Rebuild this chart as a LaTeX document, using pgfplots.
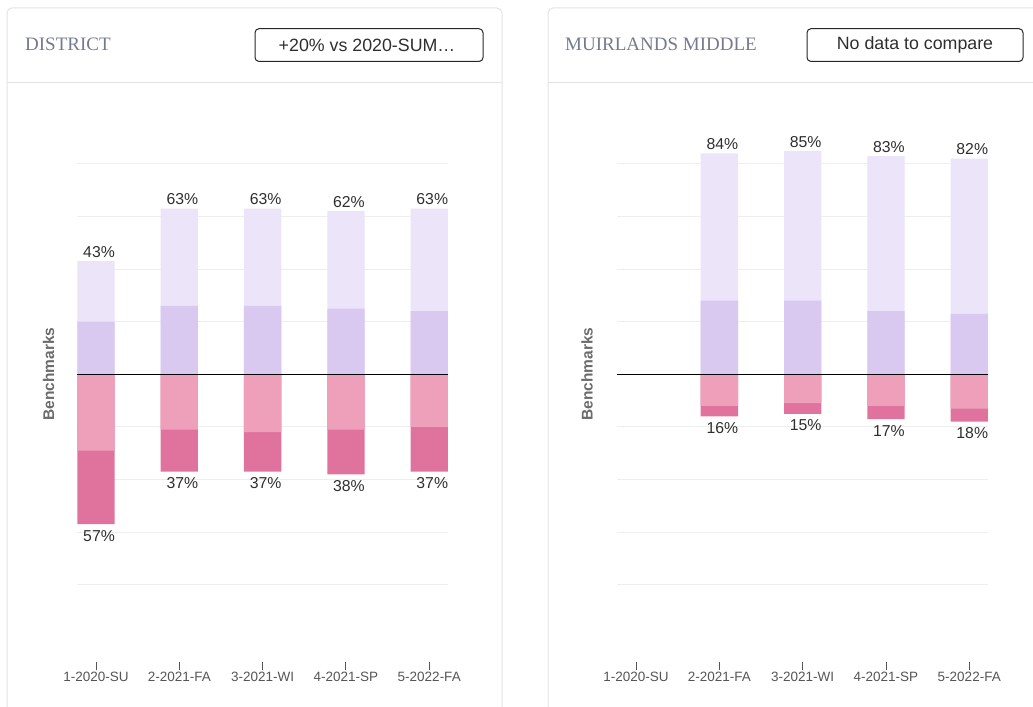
\documentclass[border=0pt]{standalone}
\usepackage{fontspec}
\setmainfont{Liberation Sans}
\newfontfamily\seriffont{Liberation Serif}
\usepackage{pgfplots}
\pgfplotsset{compat=1.18}
\usepackage{pgfplotstable}

\definecolor{lpur}{HTML}{ECE4F9}
\definecolor{dpur}{HTML}{D9C9F0}
\definecolor{lpink}{HTML}{EEA0BB}
\definecolor{dpink}{HTML}{DF739D}
\definecolor{gridc}{HTML}{EEEEEE}
\definecolor{cardc}{HTML}{E3E3E3}
\definecolor{headc}{HTML}{767A90}
\definecolor{tickc}{HTML}{555555}
\definecolor{labc}{HTML}{2E2E2E}
\definecolor{benchc}{HTML}{6B6B6B}

% x: category, dp: dark purple, lp: light purple, lk: light pink, dk: dark pink
\pgfplotstableread{
x dp lp lk dk pos neg
0 20 23 29 28 43 57
1 26 37 21 16 63 37
2 26 37 22 15 63 37
3 25 37 21 17 62 38
4 24 39 20 17 63 37
}\district

\pgfplotstableread{
x dp lp lk dk pos neg
1 28 56 12 4 84 16
2 28 57 11 4 85 15
3 24 59 12 5 83 17
4 23 59 13 5 82 18
}\muirlands

\pgfplotsset{
  panel/.style={
    anchor=south west,
    x=83.3bp, y=2.63bp,
    xmin=-0.225, xmax=4.225, ymin=-109.5, ymax=110,
    ybar, bar width=37.3bp, bar shift=0pt,
    clip=false,
    /pgf/number format/assume math mode=true,
    axis line style={draw=none},
    ytick={-80,-60,-40,-20,20,40,60,80}, yticklabels={},
    ymajorgrids, grid style={gridc, line width=1bp},
    ytick style={draw=none},
    xtick={0,1,2,3,4},
    xticklabels={1-2020-SU,2-2021-FA,3-2021-WI,4-2021-SP,5-2022-FA},
    xtick pos=left, tick align=outside, major tick length=8bp,
    xtick style={draw=tickc, line width=0.9bp},
    xticklabel style={font=\fontsize{13.5bp}{16bp}\selectfont, text=tickc, inner sep=2bp},
    every node near coord/.append style={font=\fontsize{15.8bp}{18bp}\selectfont, text=labc, xshift=3bp},
  },
  lblpos/.style={nodes near coords={\pgfmathprintnumber{\pgfplotspointmeta}\%}, point meta=explicit},
  lblneg/.style={visualization depends on={\thisrow{neg} \as \negval},
                 nodes near coords={\pgfmathprintnumber[fixed, precision=0]{\negval}\%}, point meta=y,
                 every node near coord/.append style={yshift=-2.5bp}},
}

\begin{document}
\begin{tikzpicture}
\path[use as bounding box] (0,0) rectangle (1033bp,707bp);
\clip (0,0) rectangle (1033bp,707bp);

% cards
\draw[cardc, line width=1bp, rounded corners=5bp] (7bp,699bp) rectangle (502bp,-20bp);
\draw[cardc, line width=1.2bp] (7bp,624.5bp) -- (502bp,624.5bp);
\draw[cardc, line width=1bp, rounded corners=5bp] (548bp,699bp) rectangle (1060bp,-20bp);
\draw[cardc, line width=1.2bp] (548bp,624.5bp) -- (1060bp,624.5bp);

% headers
\node[anchor=west, inner sep=0pt, font=\seriffont\fontsize{19bp}{21bp}\selectfont, text=headc] at (25bp,663bp) {DISTRICT};
\draw[black!85, line width=1bp, rounded corners=4bp] (255bp,678.3bp) rectangle (483bp,645.5bp);
\node[font=\fontsize{17.8bp}{20bp}\selectfont, text=labc] at (367bp,662bp) {+20\% vs 2020-SUM…};

\node[anchor=west, inner sep=0pt, font=\seriffont\fontsize{19bp}{21bp}\selectfont, text=headc] at (565bp,663bp) {MUIRLANDS MIDDLE};
\draw[black!85, line width=1bp, rounded corners=4bp] (807bp,678.3bp) rectangle (1023bp,645.5bp);
\node[font=\fontsize{17.8bp}{20bp}\selectfont, text=labc] at (915bp,662bp) {No data to compare};

% y labels
\node[rotate=90, font=\bfseries\fontsize{15.5bp}{18bp}\selectfont, text=benchc] at (48.5bp,333bp) {Benchmarks};
\node[rotate=90, font=\bfseries\fontsize{15.5bp}{18bp}\selectfont, text=benchc] at (587bp,333bp) {Benchmarks};

% District panel
\begin{axis}[panel, at={(77.3bp,44.7bp)}]
\addplot[fill=lpur, draw=none, lblpos] table[x=x, y=pos, meta=pos] {\district};
\addplot[fill=dpur, draw=none] table[x=x, y=dp] {\district};
\addplot[fill=dpink, draw=none, lblneg] table[x=x, y expr=-\thisrow{neg}] {\district};
\addplot[fill=lpink, draw=none] table[x=x, y expr=-\thisrow{lk}] {\district};
\draw[black, line width=1bp] (axis cs:-0.225,0) -- (axis cs:4.225,0);
\end{axis}

% Muirlands panel
\begin{axis}[panel, at={(617.3bp,44.7bp)}]
\addplot[fill=lpur, draw=none, lblpos] table[x=x, y=pos, meta=pos] {\muirlands};
\addplot[fill=dpur, draw=none] table[x=x, y=dp] {\muirlands};
\addplot[fill=dpink, draw=none, lblneg] table[x=x, y expr=-\thisrow{neg}] {\muirlands};
\addplot[fill=lpink, draw=none] table[x=x, y expr=-\thisrow{lk}] {\muirlands};
\draw[black, line width=1bp] (axis cs:-0.225,0) -- (axis cs:4.225,0);
\end{axis}
\end{tikzpicture}
\end{document}
